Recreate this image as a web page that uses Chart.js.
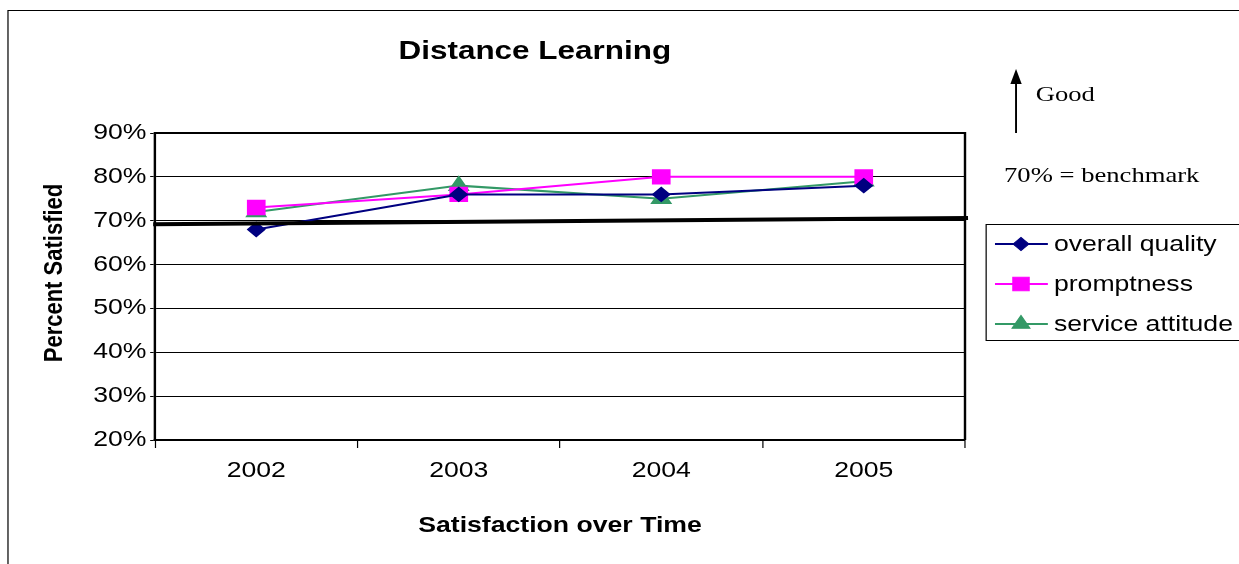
<!DOCTYPE html>
<html>
<head>
<meta charset="utf-8">
<script src="https://cdn.jsdelivr.net/npm/chart.js@4.4.1/dist/chart.umd.min.js"></script>
<style>
  html, body { margin: 0; padding: 0; background: #fff; }
  canvas { display: block; }
</style>
</head>
<body>
<canvas id="satisfactionChart" width="1024" height="564" style="width:1024px;height:564px"></canvas>
<script>
const years = ['2002', '2003', '2004', '2005'];
const overallQuality = [68, 76, 76, 78];
const promptness = [73, 76, 80, 80];
const serviceAttitude = [72, 78, 75, 79];
const yTicks = [20, 30, 40, 50, 60, 70, 80, 90];
// benchmark line as drawn: slightly tilted from left edge to right edge
const benchmarkLine = [69.2, 70.6];

// the original picture is stretched sideways, so the chart is laid out
// narrower and drawn with a horizontal scale
const SX = 1.21;
const W = 1024;

const FONT = "'Liberation Sans', Arial, sans-serif";
const SERIF = "'Liberation Serif', 'Times New Roman', serif";

const extras = {
    id: 'extras',
    beforeDraw(chart) {
        const ctx = chart.ctx;
        ctx.save();
        ctx.fillStyle = '#fff';
        ctx.fillRect(0, 0, chart.width, chart.height);
        ctx.strokeStyle = '#000';
        ctx.lineWidth = 1;
        ctx.strokeRect(6.6, 10.5, 1400, 700);
        ctx.restore();
    },
    afterDatasetsDraw(chart) {
        const ctx = chart.ctx;
        const a = chart.chartArea;
        const y = chart.scales.y;
        ctx.save();
        // plot frame top + right
        ctx.strokeStyle = '#000';
        ctx.lineWidth = 2;
        ctx.beginPath();
        ctx.moveTo(a.left, a.top);
        ctx.lineTo(a.right, a.top);
        ctx.lineTo(a.right, a.bottom);
        ctx.stroke();

        // benchmark
        ctx.lineWidth = 4;
        ctx.beginPath();
        ctx.moveTo(a.left - 1.5, y.getPixelForValue(benchmarkLine[0]));
        ctx.lineTo(a.right + 2.5, y.getPixelForValue(benchmarkLine[1]));
        ctx.stroke();

        // title
        ctx.fillStyle = '#000';
        ctx.textAlign = 'center';
        ctx.textBaseline = 'middle';
        ctx.font = 'bold 26px ' + FONT;
        ctx.fillText('Distance Learning', 442, 52);

        // y axis title, sits a bit above the plot centre in the original
        ctx.save();
        ctx.translate(55 / SX, 273);
        ctx.rotate(-Math.PI / 2);
        ctx.font = 'bold 22px ' + FONT;
        ctx.fillText('Percent Satisfied', 0, 0);
        ctx.restore();

        // Good arrow
        ctx.lineWidth = 1.6;
        ctx.beginPath();
        ctx.moveTo(839.7, 133);
        ctx.lineTo(839.7, 80);
        ctx.stroke();
        ctx.beginPath();
        ctx.moveTo(839.7, 69);
        ctx.lineTo(835, 84);
        ctx.lineTo(844.4, 84);
        ctx.closePath();
        ctx.fill();
        ctx.textAlign = 'left';
        ctx.font = '22px ' + SERIF;
        ctx.fillText('Good', 856, 95);
        ctx.fillText('70% = benchmark', 829.8, 176);

        // legend
        ctx.lineWidth = 1;
        ctx.strokeRect(815, 224.5, 300, 116);
        ctx.font = '22px ' + FONT;
        chart.data.datasets.forEach((ds, i) => {
            const ly = 244 + i * 40;
            ctx.strokeStyle = ds.borderColor;
            ctx.lineWidth = 2;
            ctx.beginPath();
            ctx.moveTo(822.3, ly);
            ctx.lineTo(866, ly);
            ctx.stroke();
            ctx.fillStyle = ds.pointBackgroundColor;
            ctx.strokeStyle = ds.pointBackgroundColor;
            ctx.lineWidth = 1;
            Chart.helpers.drawPoint(ctx, {
                pointStyle: ds.pointStyle,
                radius: ds.pointRadius,
                borderWidth: 1
            }, 843.8, ly);
            ctx.fillStyle = '#000';
            ctx.fillText(ds.label, 871, ly + 1);
        });
        ctx.restore();
    }
};

const canvas = document.getElementById('satisfactionChart');
const ctx = canvas.getContext('2d');
const chart = new Chart(ctx, {
    type: 'line',
    data: {
        labels: years,
        datasets: [{
            label: 'overall quality',
            data: overallQuality,
            borderColor: '#000080',
            backgroundColor: '#000080',
            pointBackgroundColor: '#000080',
            pointBorderColor: '#000080',
            pointStyle: 'rectRot',
            pointRadius: 6.5,
            borderWidth: 2
        }, {
            label: 'promptness',
            data: promptness,
            borderColor: '#FF00FF',
            backgroundColor: '#FF00FF',
            pointBackgroundColor: '#FF00FF',
            pointBorderColor: '#FF00FF',
            pointStyle: 'rect',
            pointRadius: 9.5,
            borderWidth: 2
        }, {
            label: 'service attitude',
            data: serviceAttitude,
            borderColor: '#339966',
            backgroundColor: '#339966',
            pointBackgroundColor: '#339966',
            pointBorderColor: '#339966',
            pointStyle: 'triangle',
            pointRadius: 8.5,
            borderWidth: 2
        }]
    },
    options: {
        responsive: false,
        devicePixelRatio: 1,
        animation: false,
        layout: {
            padding: { top: 133, right: W - 965 / SX, bottom: 0, left: 0 }
        },
        plugins: {
            legend: { display: false },
            title: { display: false },
            tooltip: { enabled: false }
        },
        scales: {
            x: {
                offset: true,
                grid: {
                    offset: true,
                    drawOnChartArea: false,
                    drawTicks: true,
                    tickLength: 8,
                    color: '#000'
                },
                border: { color: '#000', width: 2 },
                ticks: {
                    color: '#000',
                    font: { family: FONT, size: 22 },
                    padding: 10,
                    maxRotation: 0
                },
                title: {
                    display: true,
                    text: 'Satisfaction over Time',
                    color: '#000',
                    font: { family: FONT, size: 22, weight: 'bold' },
                    padding: { top: 0, bottom: 25 }
                },
                afterFit(scale) { scale.height = 124; }
            },
            y: {
                min: yTicks[0],
                max: yTicks[yTicks.length - 1],
                afterBuildTicks(scale) {
                    scale.ticks = yTicks.map(v => ({ value: v }));
                },
                grid: {
                    color: '#000',
                    lineWidth: 1,
                    tickLength: 4
                },
                border: { color: '#000', width: 2 },
                ticks: {
                    color: '#000',
                    font: { family: FONT, size: 22 },
                    padding: 3,
                    callback: v => v + '%'
                },
                afterFit(scale) { scale.width = 155 / SX; }
            }
        }
    },
    plugins: [extras]
});

// redraw onto a full-width bitmap with the sideways stretch
canvas.width = Math.round(W * SX);
canvas.style.width = canvas.width + 'px';
ctx.setTransform(SX, 0, 0, 1, 0, 0);
chart.draw();
</script>
</body>
</html>
